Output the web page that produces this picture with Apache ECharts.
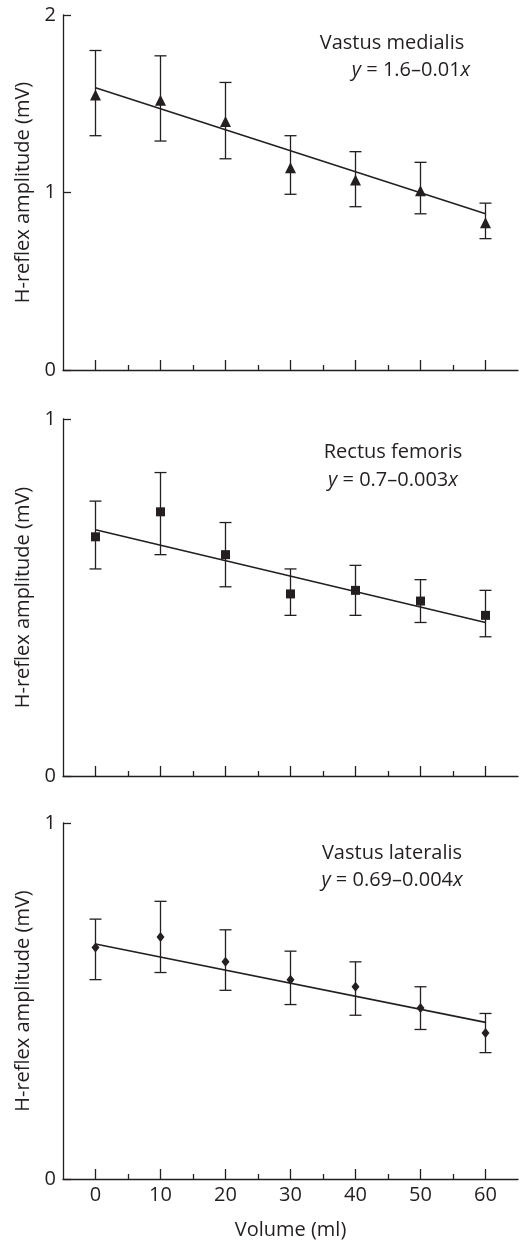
<!DOCTYPE html>
<html>
<head>
<meta charset="utf-8">
<script src="https://cdn.jsdelivr.net/npm/echarts@6/dist/echarts.min.js"></script>
<style>
html,body{margin:0;padding:0;background:#fff;}
#chart{width:521px;height:1244px;}
</style>
</head>
<body>
<div id="chart"></div>
<script>
// ---- data ----
const volumes = [0, 10, 20, 30, 40, 50, 60];
const xTickLabels = [0, 10, 20, 30, 40, 50, 60];
const xMinorTicks = [5, 15, 25, 35, 45, 55];

const vmMean = [1.55, 1.52, 1.40, 1.14, 1.07, 1.01, 0.83];
const vmLow  = [1.32, 1.29, 1.19, 0.99, 0.92, 0.88, 0.74];
const vmHigh = [1.80, 1.77, 1.62, 1.32, 1.23, 1.17, 0.94];
const vmFit  = [[0, 1.59], [60, 0.88]];

const rfMean = [0.67, 0.74, 0.62, 0.51, 0.52, 0.49, 0.45];
const rfLow  = [0.58, 0.62, 0.53, 0.45, 0.45, 0.43, 0.39];
const rfHigh = [0.77, 0.85, 0.71, 0.58, 0.59, 0.55, 0.52];
const rfFit  = [[0, 0.69], [60, 0.43]];

const vlMean = [0.65, 0.68, 0.61, 0.56, 0.54, 0.48, 0.41];
const vlLow  = [0.56, 0.58, 0.53, 0.49, 0.46, 0.42, 0.355];
const vlHigh = [0.73, 0.78, 0.70, 0.64, 0.61, 0.54, 0.465];
const vlFit  = [[0, 0.66], [60, 0.44]];

const panelNames = ['Vastus medialis', 'Rectus femoris', 'Vastus lateralis'];
const panelEquations = ['1.6–0.01', '0.7–0.003', '0.69–0.004'];
const yMax = [2, 1, 1];
const yTicks = [[0, 1, 2], [0, 1], [0, 1]];
const yTitle = 'H-reflex amplitude (mV)';
const xTitle = 'Volume (ml)';

// ---- layout / style ----
const INK = '#231f20';
const FONT = 'Open Sans';
const FS = 20;
const grids = [
  {left: 63, width: 455, top: 15, height: 355},
  {left: 63, width: 455, top: 419, height: 357},
  {left: 63, width: 455, top: 823, height: 356}
];
// annotation anchor: [line1 centerX, line1 centerY, line2 centerX, line2 centerY]
const annot = [
  [392, 43, 411, 70],
  [393, 452, 393, 480],
  [392, 853, 392, 880]
];
const panels = [
  {mean: vmMean, low: vmLow, high: vmHigh, fit: vmFit, symbol: 'triangle', size: [11, 11]},
  {mean: rfMean, low: rfLow, high: rfHigh, fit: rfFit, symbol: 'rect', size: [9, 9]},
  {mean: vlMean, low: vlLow, high: vlHigh, fit: vlFit, symbol: 'diamond', size: [8, 10]}
];

const xAxes = [], yAxes = [], series = [], graphics = [];
grids.forEach((g, i) => {
  const last = i === 2;
  xAxes.push({
    type: 'value', gridIndex: i, min: -5, max: 65, interval: 5, position: 'bottom',
    axisLine: {show: true, onZero: false, lineStyle: {color: INK, width: 1.3}},
    axisTick: {show: true, inside: true, length: 10, customValues: xTickLabels, lineStyle: {color: INK, width: 1.3}},
    axisLabel: {show: last, customValues: xTickLabels, fontSize: FS, color: INK, fontFamily: FONT, margin: 6},
    splitLine: {show: false},
    name: last ? xTitle : '',
    nameLocation: 'middle', nameGap: 41,
    nameTextStyle: {fontSize: FS, color: INK, fontFamily: FONT}
  });
  xAxes.push({
    type: 'value', gridIndex: i, min: -5, max: 65, interval: 5, position: 'bottom',
    axisLine: {show: false, onZero: false},
    axisTick: {show: true, inside: true, length: 5, customValues: xMinorTicks, lineStyle: {color: INK, width: 1.3}},
    axisLabel: {show: false},
    splitLine: {show: false}
  });
  yAxes.push({
    type: 'value', gridIndex: i, min: 0, max: yMax[i], interval: 1, position: 'left',
    axisLine: {show: true, onZero: false, lineStyle: {color: INK, width: 1.3}},
    axisTick: {show: true, inside: true, length: 8, customValues: yTicks[i], lineStyle: {color: INK, width: 1.3}},
    axisLabel: {show: true, customValues: yTicks[i], fontSize: FS, color: INK, fontFamily: FONT, margin: 7},
    splitLine: {show: false},
    name: yTitle,
    nameLocation: 'middle', nameGap: 24,
    nameTextStyle: {fontSize: FS, color: INK, fontFamily: FONT}
  });

  const p = panels[i];
  // error bars
  series.push({
    type: 'custom', xAxisIndex: 2 * i, yAxisIndex: i,
    data: volumes.map((v, k) => [v, p.low[k], p.high[k]]),
    encode: {x: 0, y: [1, 2]},
    silent: true,
    renderItem: (params, api) => {
      const x = api.value(0);
      const lo = api.coord([x, api.value(1)]);
      const hi = api.coord([x, api.value(2)]);
      const hw = 6;
      const st = {stroke: INK, lineWidth: 1.3};
      return {type: 'group', children: [
        {type: 'line', shape: {x1: lo[0], y1: lo[1], x2: hi[0], y2: hi[1]}, style: st},
        {type: 'line', shape: {x1: lo[0] - hw, y1: lo[1], x2: lo[0] + hw, y2: lo[1]}, style: st},
        {type: 'line', shape: {x1: hi[0] - hw, y1: hi[1], x2: hi[0] + hw, y2: hi[1]}, style: st}
      ]};
    },
    z: 2
  });
  // regression line
  series.push({
    type: 'line', xAxisIndex: 2 * i, yAxisIndex: i,
    data: p.fit, showSymbol: false, symbol: 'none', silent: true,
    lineStyle: {color: INK, width: 1.6}, z: 3
  });
  // means
  series.push({
    type: 'scatter', xAxisIndex: 2 * i, yAxisIndex: i,
    data: volumes.map((v, k) => [v, p.mean[k]]),
    symbol: p.symbol, symbolSize: p.size,
    itemStyle: {color: INK, opacity: 1}, silent: true, z: 4
  });

  // annotation
  const a = annot[i];
  graphics.push({
    type: 'text', x: a[0], y: a[1], silent: true,
    style: {
      text: panelNames[i], align: 'center', verticalAlign: 'middle',
      fontSize: FS, fontFamily: FONT, fill: INK
    }
  });
  graphics.push({
    type: 'text', x: a[2], y: a[3], silent: true,
    style: {
      text: '{i|y} = ' + panelEquations[i] + '{i|x}', align: 'center', verticalAlign: 'middle',
      fontSize: FS, fontFamily: FONT, fill: INK,
      rich: {i: {fontStyle: 'italic', fontSize: FS, fontFamily: FONT, fill: INK}}
    }
  });
});

const chart = echarts.init(document.getElementById('chart'), null, {renderer: 'canvas'});
chart.setOption({
  animation: false,
  backgroundColor: '#fff',
  textStyle: {fontFamily: FONT},
  grid: grids,
  xAxis: xAxes,
  yAxis: yAxes,
  series: series,
  graphic: graphics
});
</script>
</body>
</html>
